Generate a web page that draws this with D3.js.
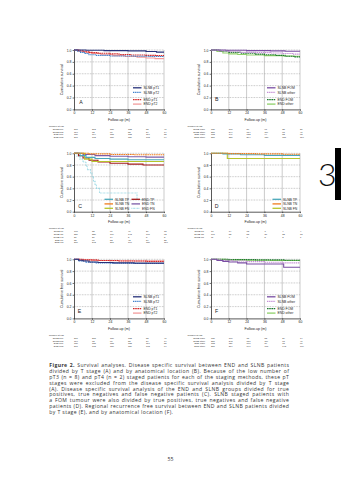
<!DOCTYPE html>
<html>
<head>
<meta charset="utf-8">
<script src="https://cdn.jsdelivr.net/npm/d3@7/dist/d3.min.js"></script>
<style>
  html, body { margin: 0; padding: 0; background: #fff; }
  svg { display: block; }
</style>
</head>
<body>
<script>
// ---- shared axis values ----
const xTicks = [0, 12, 24, 36, 48, 60];
const yTicks = [0, 0.2, 0.4, 0.6, 0.8, 1.0];

// ---- Kaplan-Meier steps: [month, cumulative survival] ----
// A: disease specific survival by T stage
const aSlnbPT1 = [[0,1],[8,0.995],[20,0.99],[36,0.985],[48,0.975],[55,0.965]];
const aSlnbPT2 = [[0,1],[2,0.98],[4,0.96],[7,0.94],[10,0.92],[15,0.91],[24,0.90],[40,0.895],[50,0.89]];
const aEndPT1  = [[0,1],[3,0.985],[6,0.97],[10,0.955],[16,0.945],[24,0.935],[30,0.925],[38,0.915],[48,0.91],[55,0.905]];
const aEndPT2  = [[0,1],[4,0.98],[8,0.96],[12,0.94],[18,0.92],[26,0.905],[34,0.89],[42,0.88],[48,0.865],[54,0.855]];
// B: disease specific survival by location
const bSlnbFom   = [[0,1],[10,0.995],[24,0.99],[40,0.985],[50,0.98]];
const bSlnbOther = [[0,1],[5,0.985],[12,0.97],[20,0.96],[30,0.955],[40,0.95],[48,0.94],[55,0.93]];
const bEndFom    = [[0,1],[6,0.98],[12,0.96],[20,0.945],[30,0.93],[36,0.92],[44,0.91],[50,0.895],[56,0.885]];
const bEndOther  = [[0,1],[4,0.975],[8,0.95],[12,0.935],[18,0.925],[24,0.915],[36,0.905],[48,0.9],[55,0.895]];
// C: true / false positives and negatives
const cSlnbTP = [[0,1],[4,0.96],[8,0.93],[14,0.91],[24,0.9],[36,0.89]];
const cSlnbTN = [[0,1],[10,0.99],[24,0.98],[40,0.975]];
const cSlnbFN = [[0,1],[7,0.9],[12,0.86]];
const cEndTP  = [[0,1],[3,0.96],[6,0.92],[10,0.88],[16,0.85],[24,0.83],[36,0.815],[46,0.8]];
const cEndTN  = [[0,1],[6,0.98],[14,0.96],[24,0.95],[36,0.94],[48,0.935]];
const cEndFN  = [[0,1],[2,0.95],[4,0.9],[6,0.85],[8,0.78],[9,0.72],[11,0.66],[12,0.6],[13,0.52],[14,0.46],[15,0.4],[17,0.32],[42,0.21]];
// D: SLNB with FOM tumour
const dSlnbTP = [[0,1],[8,0.99],[20,0.975],[36,0.965]];
const dSlnbTN = [[0,1],[12,0.995],[30,0.99],[48,0.985]];
const dSlnbFN = [[0,1],[11,0.91]];
// E: regional recurrence free survival by T stage
const eSlnbPT1 = [[0,1],[3,0.985],[6,0.97],[10,0.955],[16,0.945],[26,0.94],[40,0.935]];
const eSlnbPT2 = [[0,1],[3,0.97],[8,0.95],[14,0.94],[24,0.935],[40,0.93]];
const eEndPT1  = [[0,1],[6,0.99],[16,0.98],[30,0.97],[48,0.965]];
const eEndPT2  = [[0,1],[4,0.99],[12,0.98],[24,0.975],[40,0.97]];
// F: regional recurrence free survival by location
const fSlnbFom   = [[0,1],[4,0.98],[8,0.965],[12,0.955],[18,0.94],[24,0.92],[49,0.865]];
const fSlnbOther = [[0,1],[6,0.985],[14,0.97],[24,0.96],[36,0.95],[48,0.94]];
const fEndFom    = [[0,1],[12,0.995],[30,0.99],[50,0.985]];
const fEndOther  = [[0,1],[10,0.99],[24,0.985],[40,0.98]];

// ---- numbers at risk at 0, 12, 24, 36, 48, 60 months ----
const riskA = [["SLNB pT1",[271,213,180,132,88,41]],["SLNB pT2",[110,72,61,38,24,14]],["END pT1",[180,164,158,133,116,85]],["END pT2",[201,173,150,126,103,64]]];
const riskB = [["SLNB FOM",[131,107,80,61,35,21]],["SLNB other",[287,244,184,119,68,41]],["END FOM",[183,149,132,94,82,65]],["END other",[287,230,204,180,151,110]]];
const riskC = [["SLNB TP",[101,82,61,46,29,15]],["SLNB TN",[256,220,179,143,101,62]],["SLNB FN",[21,20,14,8,5,3]],["END TP",[85,67,53,42,34,25]],["END TN",[276,242,211,190,150,110]]];
const riskD = [["SLNB TP",[17,14,13,7,4,4]],["SLNB TN",[101,82,53,37,32,18]],["SLNB FN",[11,9,7,5,3,1]]];
const riskE = [["SLNB pT1",[271,215,180,132,88,41]],["SLNB pT2",[110,72,61,38,24,14]],["END pT1",[180,158,158,133,116,85]],["END pT2",[201,173,150,126,103,64]]];
const riskF = [["SLNB FOM",[131,100,75,53,29,14]],["SLNB other",[287,248,187,119,68,41]],["END FOM",[183,129,100,89,78,61]],["END other",[287,214,190,171,143,109]]];

// ---- series styling ----
const COL = {
  navy: "#27327a", blue: "#3c7fcb", red: "#d42a2a", pink: "#f29c9c",
  purple: "#7a4ea3", lilac: "#c690d6", dgreen: "#1f7a30", lgreen: "#8fd06a",
  teal: "#4aa8ba", orange: "#f07d1e", olive: "#b6c42c", dred: "#a31a1a",
  violet: "#7d5ca8", cyan: "#93d5e2"
};
const FONT = "'Liberation Sans', Arial, sans-serif";
const TEXT_FONT = "'Open Sans', Lato, sans-serif";

const svg = d3.select("body").append("svg")
  .attr("width", 341).attr("height", 481)
  .attr("viewBox", "0 0 341 481");
svg.append("rect").attr("width", 341).attr("height", 481).attr("fill", "#fff");

function panel(cfg) {
  const x = d3.scaleLinear().domain([0, 60]).range([cfg.x0, cfg.x1]);
  const y = d3.scaleLinear().domain([0, 1]).range([cfg.yb, cfg.yt]);
  const g = svg.append("g");

  // grid
  g.selectAll(".vg").data(xTicks.slice(1)).join("line")
    .attr("x1", d => x(d)).attr("x2", d => x(d))
    .attr("y1", y(0)).attr("y2", y(1))
    .attr("stroke", "#b4b4b4").attr("stroke-width", 0.7);
  g.selectAll(".hg").data(yTicks.slice(1)).join("line")
    .attr("x1", x(0)).attr("x2", x(60))
    .attr("y1", d => y(d)).attr("y2", d => y(d))
    .attr("stroke", "#9a9a9a").attr("stroke-width", 0.6)
    .attr("stroke-dasharray", "0.8,0.8");

  // axes
  const ax = g.append("g").attr("transform", `translate(0,${y(0)})`)
    .call(d3.axisBottom(x).tickValues(xTicks).tickSize(1.4).tickSizeOuter(0).tickPadding(1.2).tickFormat(d3.format("d")));
  const ay = g.append("g").attr("transform", `translate(${x(0)},0)`)
    .call(d3.axisLeft(y).tickValues(yTicks).tickSize(1.4).tickSizeOuter(0).tickPadding(1.2).tickFormat(d3.format(".1f")));
  [ax, ay].forEach(a => {
    a.selectAll("path").attr("stroke", "#111").attr("stroke-width", 0.7);
    a.selectAll("line").attr("stroke", "#111").attr("stroke-width", 0.6);
    a.selectAll("text").attr("font-size", 3.4).attr("font-family", FONT).attr("fill", "#222");
  });

  g.append("text").attr("x", (x(0) + x(60)) / 2).attr("y", y(0) + 11.6)
    .attr("text-anchor", "middle").attr("font-size", 3.6).attr("font-family", FONT).attr("fill", "#222")
    .text("Follow-up (m)");
  g.append("text")
    .attr("transform", `translate(${x(0) - 11},${(y(0) + y(1)) / 2}) rotate(-90)`)
    .attr("text-anchor", "middle").attr("font-size", 3.6).attr("font-family", FONT).attr("fill", "#222")
    .text(cfg.ylabel);

  // survival curves
  const line = d3.line().x(d => x(d[0])).y(d => y(d[1])).curve(d3.curveStepAfter);
  cfg.series.forEach(s => {
    const last = s.data[s.data.length - 1];
    const pts = s.data.concat([[s.end == null ? 60 : s.end, last[1]]]);
    g.append("path").attr("d", line(pts)).attr("fill", "none")
      .attr("stroke", s.color).attr("stroke-width", s.w || 1.1)
      .attr("stroke-dasharray", s.dash || null);
  });

  // legend
  cfg.legend.forEach(col => {
    col.items.forEach((it, i) => {
      const ly = y(0) + col.dy[i];
      g.append("line").attr("x1", col.x).attr("x2", col.x + 8.5)
        .attr("y1", ly).attr("y2", ly)
        .attr("stroke", it.color).attr("stroke-width", 1.3)
        .attr("stroke-dasharray", it.dash || null);
      g.append("text").attr("x", col.x + 10.5).attr("y", ly + 1.2)
        .attr("font-size", 3.4).attr("font-family", FONT).attr("fill", "#222")
        .text(it.label);
    });
  });

  // panel letter
  g.append("text").attr("x", cfg.letterX).attr("y", y(0) + cfg.letterDy)
    .attr("text-anchor", "middle").attr("font-size", 5.2).attr("font-family", FONT).attr("fill", "#222")
    .text(cfg.letter);

  // numbers at risk
  const top = y(0) + 17.6;
  g.append("text").attr("x", cfg.headX).attr("y", top)
    .attr("font-size", 2.3).attr("font-family", FONT).attr("fill", "#333").text("Number at risk");
  cfg.risk.forEach((r, i) => {
    const ry = top + 2.8 * (i + 1);
    g.append("text").attr("x", cfg.labelRight).attr("y", ry).attr("text-anchor", "end")
      .attr("font-size", 2.3).attr("font-family", FONT).attr("fill", "#333").text(r[0]);
    g.selectAll(null).data(r[1]).join("text")
      .attr("x", (d, j) => x(xTicks[j])).attr("y", ry)
      .attr("font-size", 2.3).attr("font-family", FONT).attr("fill", "#333")
      .text(d => d);
  });
}

const leg4 = [-21.6, -17.1, -9.8, -5.3];
const leg3 = [-12.4, -7.8, -3.4];

// A
panel({
  x0: 74, x1: 164, yt: 50, yb: 109.4, letter: "A", letterX: 81, letterDy: -5.5,
  ylabel: "Cumulative survival", headX: 49, labelRight: 63.3, risk: riskA,
  series: [
    { data: aEndPT2, color: COL.pink },
    { data: aEndPT1, color: COL.red, dash: "1.6,0.6" },
    { data: aSlnbPT2, color: COL.blue, dash: "1.4,0.7" },
    { data: aSlnbPT1, color: COL.navy }
  ],
  legend: [{ x: 133, dy: leg4, items: [
    { label: "SLNB pT1", color: COL.navy },
    { label: "SLNB pT2", color: COL.blue, dash: "1.4,0.7" },
    { label: "END pT1", color: COL.red, dash: "1.6,0.6" },
    { label: "END pT2", color: COL.pink }
  ] }]
});

// B
panel({
  x0: 211, x1: 300, yt: 50, yb: 109.4, letter: "B", letterX: 216.7, letterDy: -8,
  ylabel: "Cumulative survival", headX: 187.5, labelRight: 205, risk: riskB,
  series: [
    { data: bEndOther, color: COL.lgreen },
    { data: bEndFom, color: COL.dgreen, dash: "1.6,0.6" },
    { data: bSlnbOther, color: COL.lilac, dash: "1.4,0.7" },
    { data: bSlnbFom, color: COL.purple }
  ],
  legend: [{ x: 267, dy: leg4, items: [
    { label: "SLNB FOM", color: COL.purple },
    { label: "SLNB other", color: COL.lilac, dash: "1.4,0.7" },
    { label: "END FOM", color: COL.dgreen, dash: "1.6,0.6" },
    { label: "END other", color: COL.lgreen }
  ] }]
});

// C
panel({
  x0: 74, x1: 164, yt: 153.3, yb: 211.7, letter: "C", letterX: 80, letterDy: -4.2,
  ylabel: "Cumulative survival", headX: 49, labelRight: 63.3, risk: riskC,
  series: [
    { data: cEndFN, color: COL.cyan, dash: "0.7,0.7", end: 46 },
    { data: cEndTN, color: COL.violet },
    { data: cEndTP, color: COL.dred },
    { data: cSlnbFN, color: COL.olive },
    { data: cSlnbTP, color: COL.teal },
    { data: cSlnbTN, color: COL.orange, dash: "1.6,0.6" }
  ],
  legend: [
    { x: 104.5, dy: leg3, items: [
      { label: "SLNB TP", color: COL.teal },
      { label: "SLNB TN", color: COL.orange },
      { label: "SLNB FN", color: COL.olive }
    ] },
    { x: 131.5, dy: leg3, items: [
      { label: "END TP", color: COL.dred },
      { label: "END TN", color: COL.violet },
      { label: "END FN", color: COL.cyan, dash: "0.7,0.7" }
    ] }
  ]
});

// D
panel({
  x0: 211, x1: 300, yt: 153.3, yb: 211.7, letter: "D", letterX: 216.7, letterDy: -4.2,
  ylabel: "Cumulative survival", headX: 187.5, labelRight: 204, risk: riskD,
  series: [
    { data: dSlnbFN, color: COL.olive },
    { data: dSlnbTP, color: COL.teal },
    { data: dSlnbTN, color: COL.orange, dash: "1.6,0.6" }
  ],
  legend: [{ x: 272.5, dy: leg3, items: [
    { label: "SLNB TP", color: COL.teal },
    { label: "SLNB TN", color: COL.orange },
    { label: "SLNB FN", color: COL.olive }
  ] }]
});

// E
panel({
  x0: 74, x1: 164, yt: 259.3, yb: 318.4, letter: "E", letterX: 79.5, letterDy: -5.5,
  ylabel: "Cumulative free survival", headX: 49, labelRight: 63.3, risk: riskE,
  series: [
    { data: eEndPT2, color: COL.pink },
    { data: eEndPT1, color: COL.red, dash: "1.6,0.6" },
    { data: eSlnbPT2, color: COL.blue, dash: "1.4,0.7" },
    { data: eSlnbPT1, color: COL.navy }
  ],
  legend: [{ x: 133, dy: leg4, items: [
    { label: "SLNB pT1", color: COL.navy },
    { label: "SLNB pT2", color: COL.blue, dash: "1.4,0.7" },
    { label: "END pT1", color: COL.red, dash: "1.6,0.6" },
    { label: "END pT2", color: COL.pink }
  ] }]
});

// F
panel({
  x0: 211, x1: 300, yt: 259.3, yb: 318.4, letter: "F", letterX: 216.7, letterDy: -5.5,
  ylabel: "Cumulative free survival", headX: 187.5, labelRight: 205, risk: riskF,
  series: [
    { data: fEndOther, color: COL.lgreen },
    { data: fEndFom, color: COL.dgreen, dash: "1.6,0.6" },
    { data: fSlnbOther, color: COL.lilac, dash: "1.4,0.7" },
    { data: fSlnbFom, color: COL.purple }
  ],
  legend: [{ x: 267, dy: leg4, items: [
    { label: "SLNB FOM", color: COL.purple },
    { label: "SLNB other", color: COL.lilac, dash: "1.4,0.7" },
    { label: "END FOM", color: COL.dgreen, dash: "1.6,0.6" },
    { label: "END other", color: COL.lgreen }
  ] }]
});

// ---- chapter tab ----
svg.append("text").attr("x", 318).attr("y", 186)
  .attr("font-size", 32).attr("font-family", "Lato, 'Open Sans', sans-serif").attr("font-weight", 300)
  .attr("fill", "#111").text("3");
svg.append("rect").attr("x", 335).attr("y", 148).attr("width", 6).attr("height", 52).attr("fill", "#000");

// ---- caption, justified line by line ----
const captionLines = [
  [["Figure 2.", true], [" Survival analyses. Disease specific survival between END and SLNB patients", false]],
  [["divided by T stage (A) and by anatomical location (B). Because of the low number of", false]],
  [["pT3 (n = 8) and pT4 (n = 2) staged patients for each of the staging methods, these pT", false]],
  [["stages were excluded from the disease specific survival analysis divided by T stage", false]],
  [["(A). Disease specific survival analysis of the END and SLNB groups divided for true", false]],
  [["positives, true negatives and false negative patients (C). SLNB staged patients with", false]],
  [["a FOM tumour were also divided by true positives, true negatives and false negative", false]],
  [["patients (D). Regional recurrence free survival between END and SLNB patients divided", false]],
  [["by T stage (E), and by anatomical location (F).", false]]
];
const capX = 49.3, capW = 240, capY = 367.2, capStep = 5.85, capSize = 5.1;
const capNodes = captionLines.map((parts, i) => {
  const t = svg.append("text").attr("x", capX).attr("y", capY + i * capStep)
    .attr("font-size", capSize).attr("font-family", TEXT_FONT).attr("fill", "#333");
  parts.forEach(p => t.append("tspan").attr("font-weight", p[1] ? 700 : 400).text(p[0]));
  return t;
});
// widen the tracking so the longest full line nearly fills the column, then justify
const fullText = i => captionLines[i].map(p => p[0]).join("");
let widestIdx = 0, widestW = 0;
capNodes.slice(0, -1).forEach((t, i) => {
  const w = t.node().getComputedTextLength();
  if (w > widestW) { widestW = w; widestIdx = i; }
});
const tracking = Math.max(0, (capW - 2 - widestW) / fullText(widestIdx).length);
capNodes.forEach((t, i) => {
  t.attr("letter-spacing", tracking);
  if (i < capNodes.length - 1) {
    const spaces = (fullText(i).match(/ /g) || []).length;
    const w = t.node().getComputedTextLength();
    if (spaces > 0) t.attr("word-spacing", (capW - w) / spaces);
  }
});

// ---- page number ----
svg.append("text").attr("x", 170.5).attr("y", 461)
  .attr("text-anchor", "middle").attr("font-size", 5.2)
  .attr("font-family", TEXT_FONT).attr("fill", "#333").text("55");
</script>
</body>
</html>
